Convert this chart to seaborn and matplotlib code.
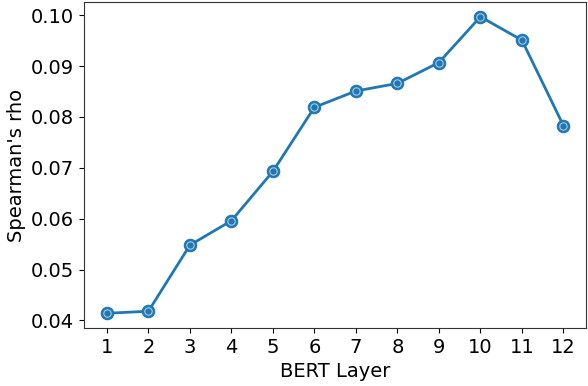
import matplotlib
matplotlib.use("Agg")
import matplotlib.pyplot as plt
import seaborn as sns
import pandas as pd

layers = [1, 2, 3, 4, 5, 6, 7, 8, 9, 10, 11, 12]
rho = [0.0414, 0.0418, 0.0548, 0.0596, 0.0693, 0.0819, 0.0851, 0.0866, 0.0907, 0.0997, 0.0951, 0.0783]

sns.set_style("ticks")
plt.rcParams['font.family'] = ['DejaVu Sans']
plt.rcParams['text.color'] = 'black'
plt.rcParams['axes.labelcolor'] = 'black'
plt.rcParams['xtick.color'] = 'black'
plt.rcParams['ytick.color'] = 'black'

df = pd.DataFrame({"layer": layers, "rho": rho})

fig = plt.figure(figsize=(5.88, 3.86), dpi=100)
ax = fig.add_axes([0.143, 0.150, 0.854, 0.845])
c = "#1f77b4"
sns.lineplot(data=df, x="layer", y="rho", ax=ax, color=c, linewidth=2,
             marker="o", markersize=9, markeredgecolor=c, markerfacecolor=c)
sns.scatterplot(data=df, x="layer", y="rho", ax=ax, color=c, s=28,
                edgecolor="#a9cbe6", linewidth=0.8, zorder=5)
ax.set_xticks(layers)
ax.set_xlabel("BERT Layer", fontsize=14)
ax.set_ylabel("Spearman's rho", fontsize=14)
ax.tick_params(labelsize=14)
for s in ax.spines.values():
    s.set_color("0.2")
fig.savefig("out.png", dpi=100)
